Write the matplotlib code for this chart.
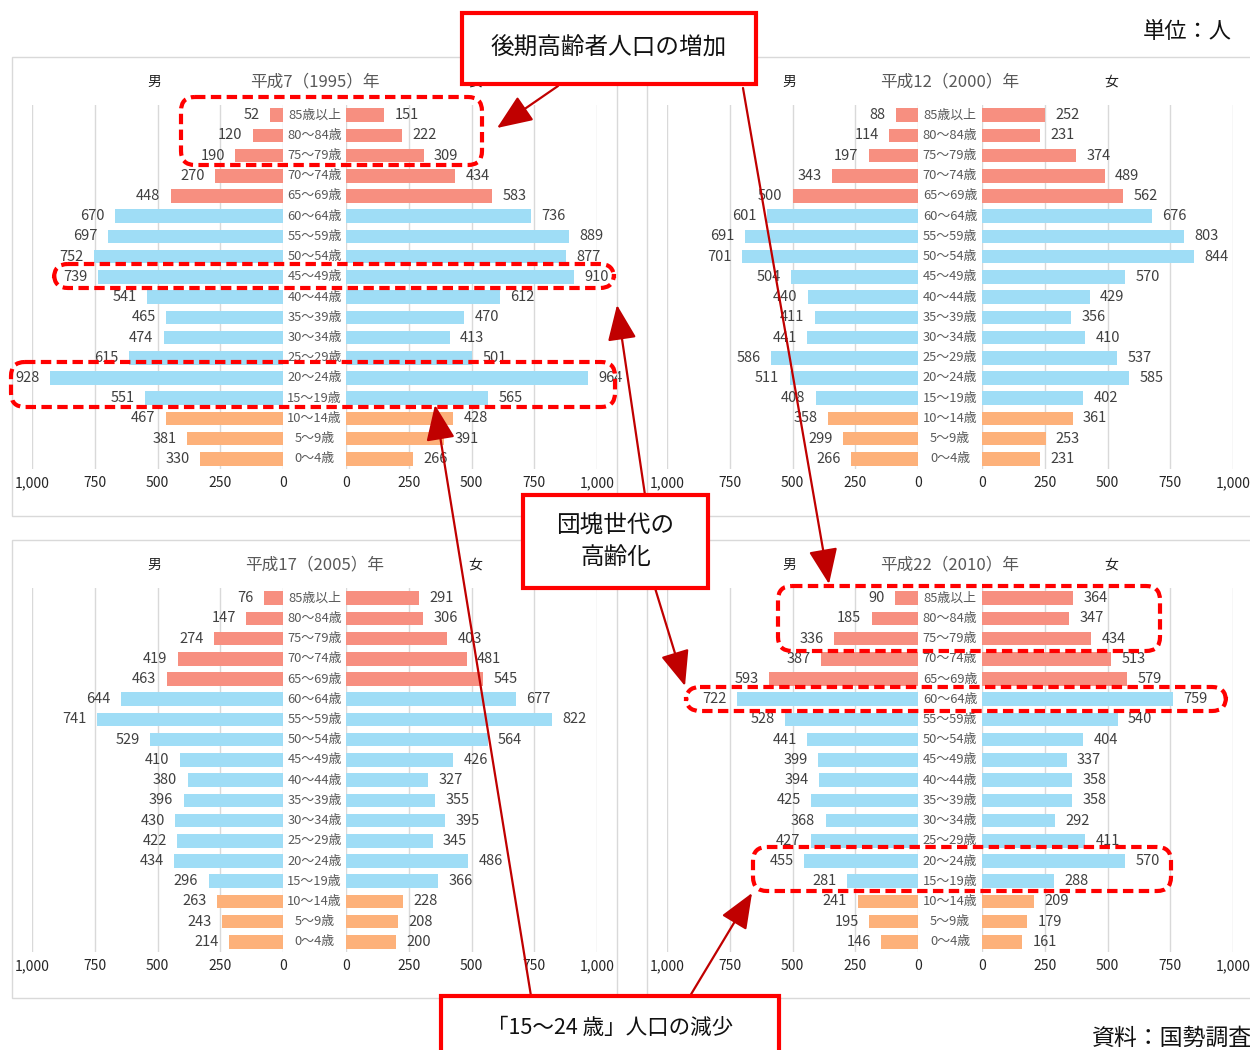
import matplotlib
matplotlib.use('Agg')
import matplotlib.pyplot as plt
from matplotlib.patches import Rectangle, FancyBboxPatch
from matplotlib.transforms import blended_transform_factory
from matplotlib.ticker import FuncFormatter, FixedLocator

plt.rcParams['font.family'] = ['Noto Sans CJK JP', 'DejaVu Sans']

W, H = 1250, 1050

ages = ['85歳以上', '80～84歳', '75～79歳', '70～74歳', '65～69歳',
        '60～64歳', '55～59歳', '50～54歳', '45～49歳', '40～44歳',
        '35～39歳', '30～34歳', '25～29歳', '20～24歳', '15～19歳',
        '10～14歳', '5～9歳', '0～4歳']

years = ['平成7（1995）年', '平成12（2000）年', '平成17（2005）年', '平成22（2010）年']

male_1995 = [52, 120, 190, 270, 448, 670, 697, 752, 739, 541, 465, 474, 615, 928, 551, 467, 381, 330]
female_1995 = [151, 222, 309, 434, 583, 736, 889, 877, 910, 612, 470, 413, 501, 964, 565, 428, 391, 266]

male_2000 = [88, 114, 197, 343, 500, 601, 691, 701, 504, 440, 411, 441, 586, 511, 408, 358, 299, 266]
female_2000 = [252, 231, 374, 489, 562, 676, 803, 844, 570, 429, 356, 410, 537, 585, 402, 361, 253, 231]

male_2005 = [76, 147, 274, 419, 463, 644, 741, 529, 410, 380, 396, 430, 422, 434, 296, 263, 243, 214]
female_2005 = [291, 306, 403, 481, 545, 677, 822, 564, 426, 327, 355, 395, 345, 486, 366, 228, 208, 200]

male_2010 = [90, 185, 336, 387, 593, 722, 528, 441, 399, 394, 425, 368, 427, 455, 281, 241, 195, 146]
female_2010 = [364, 347, 434, 513, 579, 759, 540, 404, 337, 358, 358, 292, 411, 570, 288, 209, 179, 161]

# 65+ / 15-64 / 0-14
ELDER, WORKING, YOUNG = '#F78F80', '#9FDDF6', '#FDB17A'
bar_colors = [ELDER] * 5 + [WORKING] * 10 + [YOUNG] * 3

VALUE_C = '#404040'
LABEL_C = '#595959'
GRID_C = '#D9D9D9'
RED = '#FF0000'
DARKRED = '#C00000'

fig = plt.figure(figsize=(W / 100, H / 100), dpi=100)
fig.patch.set_facecolor('white')


def add_axes_px(x0, y0, x1, y1, **kw):
    return fig.add_axes([x0 / W, 1 - y1 / H, (x1 - x0) / W, (y1 - y0) / H], **kw)


def fig_xy(x, y):
    return x / W, 1 - y / H


def style_axis(ax):
    ax.set_xlim(0, 1000)
    ax.set_ylim(len(ages) - 0.5, -0.5)
    ax.xaxis.set_major_locator(FixedLocator([0, 250, 500, 750, 1000]))
    ax.xaxis.set_major_formatter(FuncFormatter(lambda v, p: f'{int(v):,}'))
    ax.set_yticks([])
    ax.grid(axis='x', color=GRID_C, lw=1)
    ax.set_axisbelow(True)
    for s in ax.spines.values():
        s.set_visible(False)
    ax.tick_params(axis='x', length=0, pad=5, labelsize=10, labelcolor='#262626')


def pyramid(male, female, title, mx, fx, top):
    width, height = 251, 364
    rows = range(len(ages))

    axm = add_axes_px(mx, top, mx + width, top + height)
    axm.barh(rows, male, height=0.67, color=bar_colors)
    style_axis(axm)
    axm.invert_xaxis()
    for i, v in enumerate(male):
        axm.annotate(f'{v}', (v, i), xytext=(-7.5, 0), textcoords='offset points',
                     ha='right', va='center', fontsize=10.5, color=VALUE_C)

    axf = add_axes_px(fx, top, fx + width, top + height)
    axf.barh(rows, female, height=0.67, color=bar_colors)
    style_axis(axf)
    for i, v in enumerate(female):
        axf.annotate(f'{v}', (v, i), xytext=(7.5, 0), textcoords='offset points',
                     ha='left', va='center', fontsize=10.5, color=VALUE_C)

    # age labels in the gap between the two halves
    mid = (mx + width + fx) / 2
    tr = blended_transform_factory(fig.transFigure, axm.transData)
    for i, a in enumerate(ages):
        axm.text(mid / W, i, a, transform=tr, ha='center', va='center',
                 fontsize=9.3, color=LABEL_C, clip_on=False)

    ty = top - 23
    fig.text(*fig_xy(mid, ty), title, ha='center', va='center', fontsize=12, color=LABEL_C)
    fig.text(*fig_xy(mx + width / 2 - 3, ty), '男', ha='center', va='center', fontsize=10, color='#222222')
    fig.text(*fig_xy(fx + width / 2 + 4, ty), '女', ha='center', va='center', fontsize=10, color='#222222')


pyramid(male_1995, female_1995, years[0], 32, 346, 105)
pyramid(male_2000, female_2000, years[1], 667, 982, 105)
pyramid(male_2005, female_2005, years[2], 32, 346, 588)
pyramid(male_2010, female_2010, years[3], 667, 982, 588)

# overlay for frames and callouts, in pixel units
ov = fig.add_axes([0, 0, 1, 1], zorder=10)
ov.set_xlim(0, W)
ov.set_ylim(H, 0)
ov.axis('off')
ov.patch.set_alpha(0)

for x0, y0, x1, y1 in [(12, 57, 617, 516), (647, 57, 1260, 516),
                       (12, 540, 617, 998), (647, 540, 1260, 998)]:
    ov.add_patch(Rectangle((x0, y0), x1 - x0, y1 - y0, fill=False, ec=GRID_C, lw=1, zorder=1))

# dashed highlight boxes
for x0, y0, x1, y1 in [(181, 97, 482, 165), (54, 264, 614, 288), (11, 362, 615, 407),
                       (778, 586, 1160, 651), (686, 687, 1226, 711), (753, 847, 1171, 891)]:
    ov.add_patch(FancyBboxPatch((x0, y0), x1 - x0, y1 - y0,
                                boxstyle='round,pad=0,rounding_size=14',
                                fill=False, ec=RED, lw=3, ls=(0, (2.5, 1.3)), zorder=3))

# arrows from the callouts
arrows = [((558, 86), (497, 128)), ((743, 88), (829, 584)),
          ((645, 495), (617, 305)), ((655, 588), (685, 686)),
          ((531, 996), (435, 405)), ((690, 996), (752, 893))]
for tail, head in arrows:
    ov.annotate('', xy=head, xytext=tail,
                arrowprops=dict(arrowstyle='-|>,head_length=1.1,head_width=0.45',
                                color=DARKRED, lw=1.6, mutation_scale=20,
                                shrinkA=0, shrinkB=0), zorder=4)

callouts = [((462, 13, 756, 84), '後期高齢者人口の増加', 17),
            ((523, 495, 708, 588), '団塊世代の\n高齢化', 17),
            ((441, 996, 779, 1070), '「15～24 歳」人口の減少', 15.5)]
for (x0, y0, x1, y1), txt, fs in callouts:
    ov.add_patch(Rectangle((x0, y0), x1 - x0, y1 - y0, fc='white', ec=RED, lw=3,
                           zorder=5, clip_on=False))
    cy = (y0 + y1) / 2 if y1 < H else 1028
    ov.text((x0 + x1) / 2, cy, txt, ha='center', va='center', fontsize=fs,
            color='#111111', linespacing=1.55, zorder=6)

fig.text(*fig_xy(1232, 31), '単位：人', ha='right', va='center', fontsize=16, color='#111111')
fig.text(*fig_xy(1252, 1038), '資料：国勢調査', ha='right', va='center', fontsize=16.5, color='#111111')

fig.savefig('out.png', dpi=100, facecolor='white')
